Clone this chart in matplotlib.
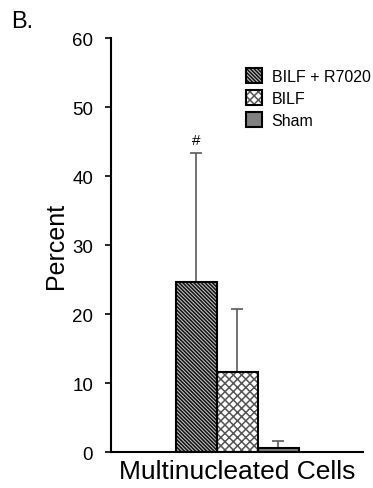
import numpy as np
import matplotlib.pyplot as plt
from matplotlib.patches import Patch

plt.rcParams['font.family'] = ['Liberation Sans', 'DejaVu Sans']
plt.rcParams['hatch.linewidth'] = 1.1

groups = ['BILF + R7020', 'BILF', 'Sham']
values = [24.6, 11.6, 0.6]
errors = [18.8, 9.1, 1.0]
hatches = ['\\\\\\\\\\\\\\\\\\', 'xxxx', '']
hatch_cols = ['#111111', '#555555', '#808080']
faces = ['#c0c0c0', 'white', '#808080']
xpos = [-1, 0, 1]

fig = plt.figure(figsize=(3.73, 4.89), dpi=100)
ax = fig.add_axes([0.298, 0.0736, 0.675, 0.8464])

handles = []
for x, v, e, h, hc, fc in zip(xpos, values, errors, hatches, hatch_cols, faces):
    ax.bar(x, v, width=1.0, color=fc, edgecolor=hc, hatch=h, linewidth=0, zorder=2)
    ax.bar(x, v, width=1.0, fill=False, edgecolor='black', linewidth=1.5, zorder=3)
    ax.errorbar(x, v, yerr=[[0], [e]], fmt='none', ecolor='#5a5a5a',
                elinewidth=1.2, capsize=4, capthick=1.2, zorder=1)
    handles.append((Patch(facecolor=fc, edgecolor=hc, hatch=h, linewidth=0),
                    Patch(fill=False, edgecolor='black', linewidth=1.5)))

ax.text(xpos[0], values[0] + errors[0] + 0.8, '#', ha='center', va='bottom',
        fontsize=11)

ax.set_xlim(-3.07, 3.07)
ax.set_ylim(0, 60)
ax.set_yticks(np.arange(0, 61, 10))
ax.set_xticks([])
ax.tick_params(axis='y', labelsize=13.5, length=4, width=1.2, direction='out', pad=9)
for s in ['top', 'right']:
    ax.spines[s].set_visible(False)
for s in ['left', 'bottom']:
    ax.spines[s].set_linewidth(1.5)
ax.set_ylabel('Percent', fontsize=18, labelpad=3)
ax.set_xlabel('Multinucleated Cells', fontsize=19, labelpad=5)

ax.legend(handles, groups, loc='upper left', bbox_to_anchor=(0.51, 0.943),
          frameon=False, fontsize=11.5, handlelength=1.0, handleheight=1.05,
          handletextpad=0.6, labelspacing=0.38, borderaxespad=0)

fig.text(0.03, 0.955, 'B.', fontsize=17, ha='left', va='center')

fig.savefig('out.png', dpi=100)
